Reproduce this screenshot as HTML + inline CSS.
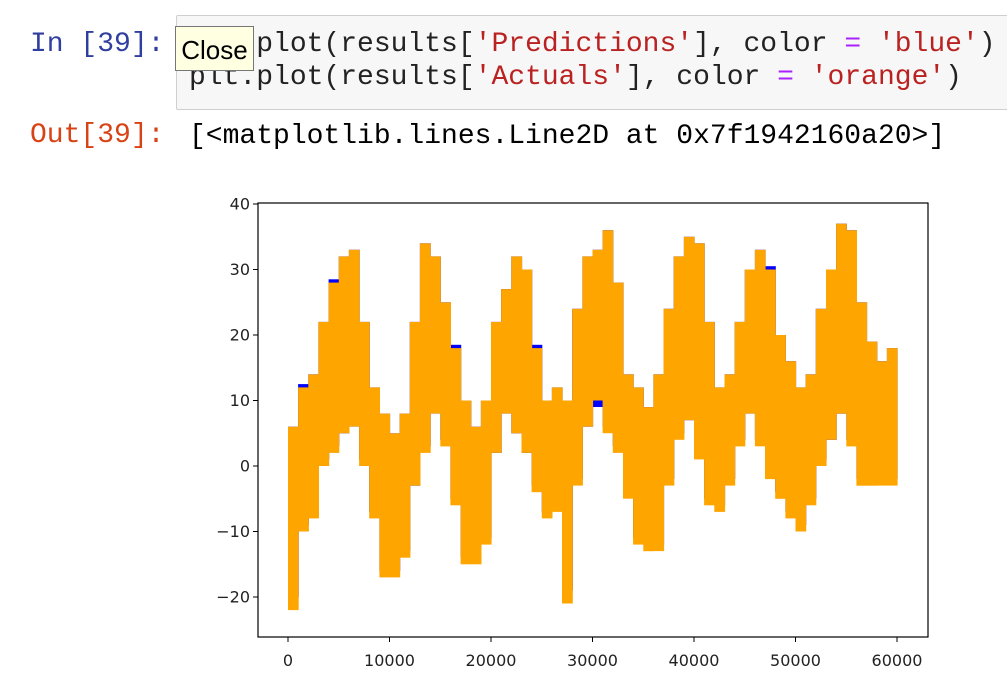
<!DOCTYPE html>
<html><head><meta charset="utf-8">
<style>
body{margin:0;width:1007px;height:680px;background:#fff;overflow:hidden;position:relative;font-family:"Liberation Mono","DejaVu Sans Mono",monospace}
.t{position:absolute;font-size:28px;white-space:pre;line-height:1}
</style></head><body>
<div class="t" style="left:30px;top:31px;color:#303f9f">In [39]:</div>
<div style="position:absolute;left:176px;top:15px;width:840px;height:93px;background:#f7f7f7;border:1px solid #cfcfcf;border-radius:2px"></div>
<div class="t" style="left:189px;top:31px;color:#222">plt.plot(results[<span style="color:#ba2121">'Predictions'</span>], color <span style="color:#aa22ff">=</span> <span style="color:#ba2121">'blue'</span>)</div>
<div class="t" style="left:189px;top:64px;color:#222">plt.plot(results[<span style="color:#ba2121">'Actuals'</span>], color <span style="color:#aa22ff">=</span> <span style="color:#ba2121">'orange'</span>)</div>
<div style="position:absolute;left:175px;top:26px;width:77px;height:43px;background:#ffffe1;border:1px solid #767676;font-family:'Liberation Sans','DejaVu Sans',sans-serif;font-size:26px;line-height:46px;text-align:center;color:#000">Close</div>
<div class="t" style="left:30px;top:122px;color:#d84315">Out[39]:</div>
<div class="t" style="left:189px;top:123px;color:#000">[&lt;matplotlib.lines.Line2D at 0x7f1942160a20&gt;]</div>
<svg id="chart" width="1007" height="680" style="position:absolute;left:0;top:0" font-family="DejaVu Sans, Liberation Sans, sans-serif"></svg>
<script>
const binStart = [0,1000,2000,3000,4000,5000,6000,7000,8000,9000,10000,11000,12000,13000,14000,15000,16000,17000,18000,19000,20000,21000,22000,23000,24000,25000,26000,27000,28000,29000,30000,31000,32000,33000,34000,35000,36000,37000,38000,39000,40000,41000,42000,43000,44000,45000,46000,47000,48000,49000,50000,51000,52000,53000,54000,55000,56000,57000,58000,59000];
const actualHi = [6,12,14,22,28,32,33,22,12,8,5,8,22,34,32,25,18,10,6,10,22,27,32,30,18,10,12,10,24,32,33,36,28,14,12,9,14,24,32,35,34,22,12,14,22,30,33,30,20,16,12,14,24,30,37,36,25,19,16,18];
const actualLo = [-22,-10,-8,0,2,5,6,0,-8,-17,-17,-14,-3,2,8,3,-6,-15,-15,-12,2,8,5,2,-4,-8,-7,-21,-3,6,10,5,2,-5,-12,-13,-13,-3,4,7,1,-6,-7,-3,3,8,3,-2,-5,-8,-10,-6,0,4,8,3,-3,-3,-3,-3];
const predHi = [6,12.5,14,22,28.5,32,33,22,12,8,5,8,22,34,32,25,18.5,10,6,10,22,27,32,30,18.5,10,12,10,24,32,33,36,28,14,12,9,14,24,32,35,34,22,12,14,22,30,33,30.5,20,16,12,14,24,30,37,36,25,19,16,18];
const predLo = [-20,-9,-7,1,3,5,6,1,-7,-16,-16,-13,-3,3,8,4,-5,-14,-14,-11,2,8,5,2,-3,-7,-6,-19,-2,6,9,6,3,-4,-11,-12,-12,-2,5,7,2,-5,-6,-2,4,8,4,-1,-4,-7,-9,-5,1,4,8,4,-2,-2,-2,-2];
const yTicks = [-20,-10,0,10,20,30,40];
const xTicks = [0,10000,20000,30000,40000,50000,60000];

const svg = document.getElementById('chart');
const NS = 'http://www.w3.org/2000/svg';
const L=258,R=928,T=203,B=637;
const xs = v => 288 + v*(897-288)/60000;
const ys = v => 466 - v*6.55;
function mk(tag, attrs, parent){const e=document.createElementNS(NS,tag);for(const k in attrs)e.setAttribute(k,attrs[k]);(parent||svg).appendChild(e);return e;}

function band(hi, lo, color, nm){
  const g=mk('g',{fill:color});
  
  
  for(let i=0;i<binStart.length;i++){
    const x0=xs(binStart[i]), x1=xs(binStart[i]+1000);
    const r=mk('rect',{x:x0.toFixed(1),y:ys(hi[i]).toFixed(1),width:(x1-x0+0.6).toFixed(1),height:(ys(lo[i])-ys(hi[i])).toFixed(1)},g);
    
    
  }
}
band(predHi,predLo,'#0000ff','predictions-series');
band(actualHi,actualLo,'#ffa500','actuals-series');

const frame=mk('rect',{x:L,y:T,width:R-L,height:B-T,fill:'none',stroke:'#000','stroke-width':1.2});


yTicks.forEach(v=>{
  const y=ys(v);
  const tk=mk('line',{x1:L-5,x2:L,y1:y,y2:y,stroke:'#000'});
  
  
  const t=mk('text',{x:L-8,y:y+5.5,'text-anchor':'end','font-size':16,fill:'#222'});
  t.textContent = v<0 ? '\u2212'+Math.abs(v) : String(v);
  
  
});
xTicks.forEach(v=>{
  const x=xs(v);
  const tk=mk('line',{x1:x,x2:x,y1:B,y2:B+5,stroke:'#000'});
  
  
  const t=mk('text',{x:x,y:B+29,'text-anchor':'middle','font-size':16,fill:'#222'});
  t.textContent = String(v);
  
  
});
</script>
</body></html>
